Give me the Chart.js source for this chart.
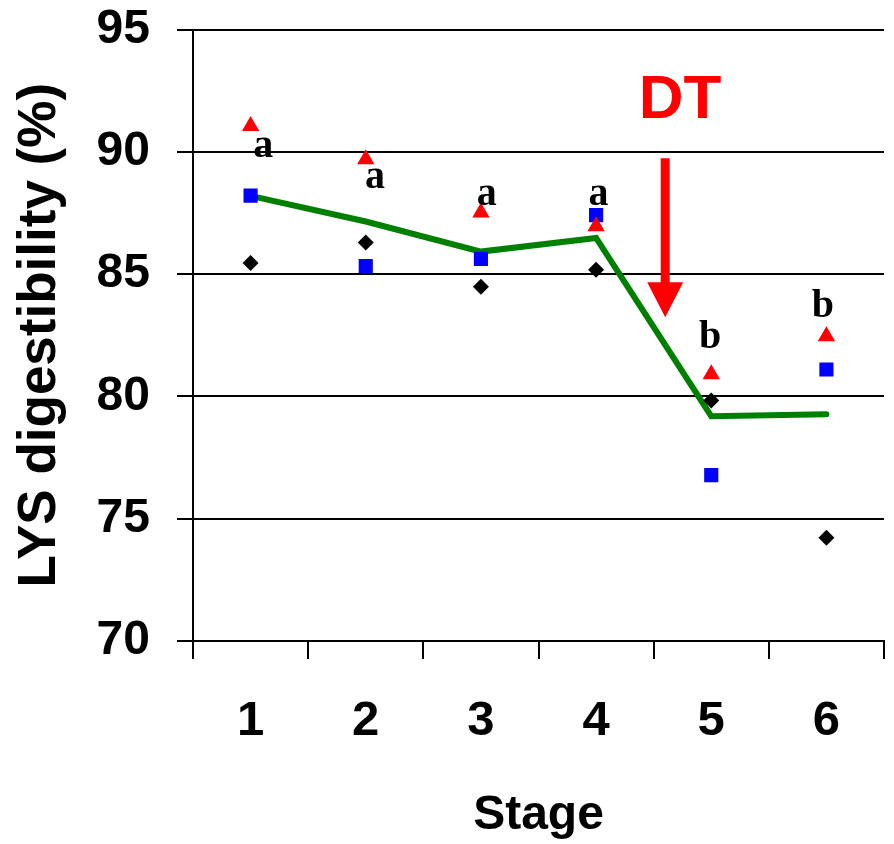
<!DOCTYPE html>
<html>
<head>
<meta charset="utf-8">
<script src="https://cdn.jsdelivr.net/npm/chart.js@4"></script>
<style>
    html, body { margin: 0; padding: 0; background: #fff; }
    #chart { display: block; }
</style>
</head>
<body>
<canvas id="chart" width="894" height="844"></canvas>
<script>
const stages = ['1', '2', '3', '4', '5', '6'];
const yTicks = [70, 75, 80, 85, 90, 95];

// treatments
const redTriangle = [91.05, 89.7, 87.52, 86.96, 80.91, 82.46];
const blueSquare = [88.21, 85.33, 85.62, 87.41, 76.78, 81.1];
const blackDiamond = [85.45, 86.29, 84.48, 85.18, 79.83, 74.22];
const meanLine = [88.2, 87.15, 85.92, 86.48, 79.19, 79.27];

// significance letters: text, x (stage index), y (baseline value)
const letters = ['a', 'a', 'a', 'a', 'b', 'b'];
const letterX = [0.11, 1.08, 2.05, 3.02, 3.99, 4.97];
const letterY = [89.79, 88.52, 87.82, 87.82, 81.97, 83.24];

// DT marker: text position and arrow (stage index, values)
const dtText = 'DT';
const dtTextAt = [3.73, 91.38];
const dtArrowX = 3.6;
const dtArrowFrom = 89.74;
const dtArrowTo = 83.24;

const annotations = {
    id: 'annotations',
    afterDatasetsDraw(chart) {
        const { ctx, scales: { x, y } } = chart;
        ctx.save();

        ctx.fillStyle = '#000';
        ctx.font = 'bold 40px "Liberation Serif", "Times New Roman", serif';
        ctx.textAlign = 'center';
        ctx.textBaseline = 'alphabetic';
        letters.forEach((t, i) => {
            ctx.fillText(t, x.getPixelForValue(letterX[i]), y.getPixelForValue(letterY[i]));
        });

        ctx.fillStyle = '#ff0000';
        ctx.font = 'bold 62px "Liberation Sans", Arial, sans-serif';
        ctx.fillText(dtText, x.getPixelForValue(dtTextAt[0]), y.getPixelForValue(dtTextAt[1]));

        // arrow
        const ax = x.getPixelForValue(dtArrowX);
        const top = y.getPixelForValue(dtArrowFrom);
        const tip = y.getPixelForValue(dtArrowTo);
        const headH = 35, headW = 36;
        ctx.strokeStyle = '#ff0000';
        ctx.lineWidth = 9;
        ctx.beginPath();
        ctx.moveTo(ax, top);
        ctx.lineTo(ax, tip - headH + 2);
        ctx.stroke();
        ctx.beginPath();
        ctx.moveTo(ax - headW / 2, tip - headH);
        ctx.lineTo(ax + headW / 2, tip - headH);
        ctx.lineTo(ax, tip);
        ctx.closePath();
        ctx.fill();

        ctx.restore();
    }
};

new Chart(document.getElementById('chart'), {
    type: 'line',
    data: {
        labels: stages,
        datasets: [
            {
                data: redTriangle,
                showLine: false,
                pointStyle: 'triangle',
                pointRadius: 10,
                pointBackgroundColor: '#ff0000',
                pointBorderColor: '#ff0000',
                pointBorderWidth: 0
            },
            {
                data: blueSquare,
                showLine: false,
                pointStyle: 'rect',
                pointRadius: 10,
                pointBackgroundColor: '#0000ff',
                pointBorderColor: '#0000ff',
                pointBorderWidth: 0
            },
            {
                data: blackDiamond,
                showLine: false,
                pointStyle: 'rectRot',
                pointRadius: 8,
                pointBackgroundColor: '#000',
                pointBorderColor: '#000',
                pointBorderWidth: 0
            },
            {
                data: meanLine,
                borderColor: '#008000',
                borderWidth: 6,
                borderCapStyle: 'round',
                borderJoinStyle: 'miter',
                pointRadius: 0,
                tension: 0
            }
        ]
    },
    options: {
        responsive: false,
        animation: false,
        devicePixelRatio: 1,
        layout: { padding: { top: 29.5, right: 5, bottom: 0, left: 0 } },
        plugins: {
            legend: { display: false },
            tooltip: { enabled: false }
        },
        scales: {
            x: {
                type: 'category',
                offset: true,
                grid: {
                    offset: true,
                    drawOnChartArea: false,
                    drawTicks: true,
                    tickLength: 18,
                    color: '#000',
                    lineWidth: 2
                },
                border: { display: true, color: '#000', width: 2 },
                ticks: {
                    color: '#000',
                    padding: 33,
                    maxRotation: 0,
                    font: { family: '"Liberation Sans", Arial, sans-serif', size: 49, weight: 'bold' }
                },
                title: {
                    display: true,
                    text: 'Stage',
                    color: '#000',
                    padding: { top: 0, bottom: 4 },
                    font: { family: '"Liberation Sans", Arial, sans-serif', size: 48, weight: 'bold', lineHeight: 1 }
                },
                afterFit: (scale) => {
                    scale.height = 203;
                    scale.paddingLeft = 0;
                    scale.paddingRight = 0;
                }
            },
            y: {
                min: yTicks[0],
                max: yTicks[yTicks.length - 1],
                afterBuildTicks: (scale) => { scale.ticks = yTicks.map(v => ({ value: v })); },
                grid: {
                    color: '#000',
                    lineWidth: 2,
                    drawTicks: true,
                    tickLength: 16
                },
                border: { display: true, color: '#000', width: 2 },
                ticks: {
                    color: '#000',
                    padding: 27,
                    font: { family: '"Liberation Sans", Arial, sans-serif', size: 48, weight: 'bold' }
                },
                title: {
                    display: true,
                    text: 'LYS digestibility (%)',
                    color: '#000',
                    padding: { top: 14, bottom: 0 },
                    font: { family: '"Liberation Sans", Arial, sans-serif', size: 53, weight: 'bold', lineHeight: 1 }
                },
                afterFit: (scale) => {
                    scale.width = 193;
                    scale.paddingTop = 0;
                    scale.paddingBottom = 0;
                }
            }
        }
    },
    plugins: [annotations]
});
</script>
</body>
</html>
